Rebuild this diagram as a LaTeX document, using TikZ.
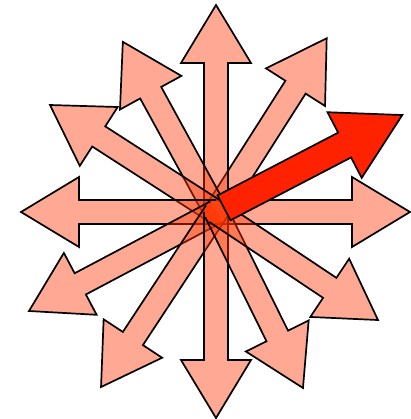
\documentclass[tikz,border=0pt]{standalone}
\usepackage{xcolor}
\usepackage{tikz}
\definecolor{rayc}{HTML}{FF3300}
\definecolor{hotc}{HTML}{FF2200}

\begin{document}
\begin{tikzpicture}[
    x=1pt, y=1pt,
    ray/.style={
      draw=black, line width=1.7pt, line join=miter,
      fill=rayc, fill opacity=0.42},
    hot/.style={
      draw=black, line width=1.7pt, line join=miter,
      fill=hotc}
  ]
  \useasboundingbox (-216,-207) rectangle (194,212);

  % --- pale rays (angle / length), open at the hub
  \foreach \ang/\len in {0/194, 57.5/206, 90/207, 118.7/194, 147.2/197.5,
      180/195, 207.9/211.6, 236.7/209.4, 270/206, 296.3/196.3, 326.3/194.7}{
    \draw[ray, rotate=\ang]
      (0,-12) -- (\len-58,-12) -- (\len-58,-35) -- (\len,0)
      -- (\len-58,35) -- (\len-58,12) -- (0,12);
  }

  % --- highlighted ray
  \draw[hot, rotate=27.5]
    (9,-14) -- (145,-14) -- (145,-37) -- (210,0)
    -- (145,37) -- (145,14) -- (9,14) -- cycle;

\end{tikzpicture}
\end{document}
